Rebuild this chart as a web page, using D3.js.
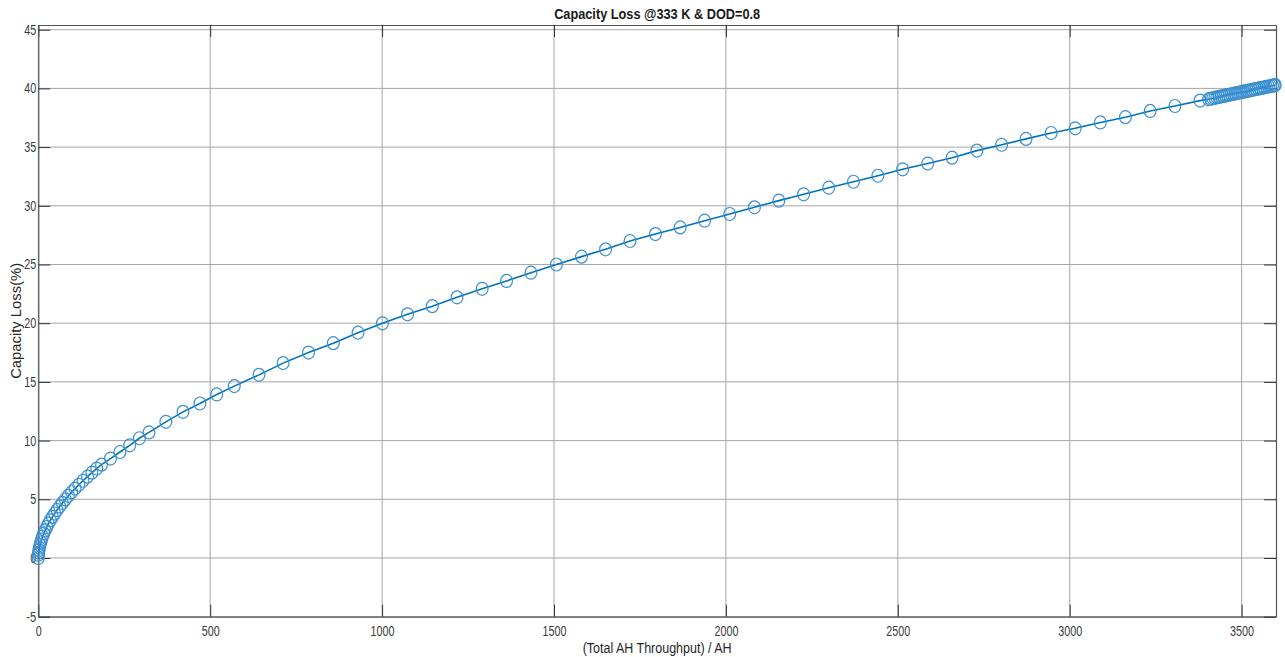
<!DOCTYPE html>
<html>
<head>
<meta charset="utf-8">
<script src="https://cdn.jsdelivr.net/npm/d3@7"></script>
<style>
  html, body { margin: 0; padding: 0; background: #fff; }
  svg { display: block; font-family: "Liberation Sans", Arial, sans-serif; }
</style>
</head>
<body>
<svg id="chart" width="1285" height="657"></svg>
<script>
// Cumulative amp-hour throughput (AH) at each solver output step
const throughput = [
  0, 0.4, 1, 2, 3.3, 5, 7, 9.5, 12.5, 16, 20, 24.5, 29.5, 35, 41, 47.5, 54.5, 62, 70, 78.5,
  87.5, 97, 107, 118, 130, 143, 156, 170, 184, 210, 237.5, 266, 294, 322,
  371, 421, 470, 519, 570, 642, 712, 786, 858, 930, 1001, 1074, 1146, 1218, 1291,
  1362, 1433, 1507, 1580, 1650, 1721, 1795, 1867, 1938, 2011, 2083, 2154, 2226, 2299,
  2371, 2442, 2514, 2587, 2658, 2730, 2802, 2873, 2946, 3016, 3089, 3162, 3234, 3306,
  3379, 3404, 3410, 3416, 3422, 3428, 3434, 3440, 3446, 3452, 3458, 3464, 3470, 3476,
  3482, 3488, 3494, 3500, 3506, 3512, 3518, 3524, 3530, 3536, 3542, 3548, 3554, 3560,
  3566, 3572, 3578, 3584, 3590, 3595, 3598
];

// Capacity loss (%) at each of those steps
const capacityLoss = [
  0, 0.28, 0.46, 0.67, 0.88, 1.11, 1.33, 1.57, 1.83, 2.09, 2.36, 2.64, 2.92, 3.21, 3.5, 3.79, 4.09, 4.39, 4.69, 4.99,
  5.3, 5.6, 5.91, 6.24, 6.58, 6.93, 7.27, 7.62, 7.95, 8.47, 9.03, 9.6, 10.2, 10.7,
  11.6, 12.45, 13.16, 13.93, 14.64, 15.6, 16.6, 17.5, 18.3, 19.19, 19.99, 20.76, 21.45, 22.2, 22.93,
  23.6, 24.3, 25.0, 25.67, 26.29, 27.0, 27.59, 28.16, 28.73, 29.3, 29.87, 30.44, 30.98, 31.54,
  32.05, 32.56, 33.11, 33.6, 34.1, 34.7, 35.2, 35.7, 36.2, 36.6, 37.1, 37.55, 38.08, 38.5,
  38.96, 39.08, 39.12, 39.16, 39.2, 39.23, 39.27, 39.31, 39.35, 39.39, 39.43, 39.46, 39.5, 39.54,
  39.57, 39.61, 39.65, 39.69, 39.72, 39.76, 39.8, 39.83, 39.87, 39.91, 39.94, 39.98, 40.02, 40.05,
  40.09, 40.13, 40.16, 40.2, 40.23, 40.26, 40.28
];

const xTicks = [0, 500, 1000, 1500, 2000, 2500, 3000, 3500];
const yTicks = [-5, 0, 5, 10, 15, 20, 25, 30, 35, 40, 45];
const xLimits = [0, 3600];
const yLimits = [-5, 45.4];

const titleText = "Capacity Loss @333 K & DOD=0.8";
const xLabelText = "(Total AH Throughput) / AH";
const yLabelText = "Capacity Loss(%)";

(function drawChart() {
  const data = throughput.map((v, i) => ({ x: v, y: capacityLoss[i] }));

  const svg = d3.select("#chart");
  const plotLeft = 38.3, plotRight = 1276, plotTop = 25, plotBottom = 616.7;

  const x = d3.scaleLinear().domain(xLimits).range([plotLeft, plotRight]);
  const y = d3.scaleLinear().domain(yLimits).range([plotBottom, plotTop]);

  const lineColor = "#0072BD";
  const gridColor = "#a6a6a6";
  const axisColor = "#555";
  const textColor = "#3a3a3a";
  const tickLen = 12;
  const plainNumber = d => String(d);

  // Grid lines
  svg.append("g").selectAll("line").data(xTicks).join("line")
    .attr("x1", d => x(d)).attr("x2", d => x(d))
    .attr("y1", plotTop).attr("y2", plotBottom)
    .attr("stroke", gridColor).attr("stroke-width", 1);
  svg.append("g").selectAll("line").data(yTicks).join("line")
    .attr("x1", plotLeft).attr("x2", plotRight)
    .attr("y1", d => y(d)).attr("y2", d => y(d))
    .attr("stroke", gridColor).attr("stroke-width", 1);

  // Axes with inward ticks on all four sides
  const styleAxis = g => {
    g.select(".domain").attr("stroke", axisColor).attr("stroke-width", 1.2);
    g.selectAll(".tick line").attr("stroke", "#333").attr("stroke-width", 1);
  };

  const gx = svg.append("g").attr("transform", `translate(0,${plotBottom})`)
    .call(d3.axisBottom(x).tickValues(xTicks).tickFormat(plainNumber)
      .tickSizeInner(-tickLen).tickSizeOuter(0).tickPadding(tickLen + 8))
    .call(styleAxis);
  svg.append("g").attr("transform", `translate(0,${plotTop})`)
    .call(d3.axisTop(x).tickValues(xTicks).tickSizeInner(-tickLen).tickSizeOuter(0).tickFormat(""))
    .call(styleAxis);
  const gy = svg.append("g").attr("transform", `translate(${plotLeft},0)`)
    .call(d3.axisLeft(y).tickValues(yTicks).tickFormat(plainNumber)
      .tickSizeInner(-tickLen).tickSizeOuter(0).tickPadding(2))
    .call(styleAxis);
  svg.append("g").attr("transform", `translate(${plotRight},0)`)
    .call(d3.axisRight(y).tickValues(yTicks).tickSizeInner(-tickLen).tickSizeOuter(0).tickFormat(""))
    .call(styleAxis);

  // Tick labels: tall, narrow glyphs
  [gx, gy].forEach(g => {
    g.selectAll(".tick text")
      .attr("font-family", "'Liberation Sans', Arial, sans-serif")
      .attr("font-size", 14)
      .attr("fill", textColor)
      .each(function () {
        const t = d3.select(this);
        const s = t.text();
        const w = s.replace(/-/g, "").length * 6.0 + (s.includes("-") ? 4 : 0);
        t.attr("textLength", w).attr("lengthAdjust", "spacingAndGlyphs");
      });
  });
  gx.selectAll(".tick text").attr("dy", "0.71em").attr("y", 9);

  // Curve
  svg.append("path")
    .datum(data)
    .attr("fill", "none")
    .attr("stroke", lineColor)
    .attr("stroke-width", 1.6)
    .attr("d", d3.line().x(d => x(d.x)).y(d => y(d.y)));

  // Circle markers
  svg.append("g").selectAll("ellipse").data(data).join("ellipse")
    .attr("cx", d => x(d.x))
    .attr("cy", d => y(d.y))
    .attr("rx", 5.9)
    .attr("ry", 6.5)
    .attr("fill", "none")
    .attr("stroke", "#3a8fd0")
    .attr("stroke-width", 1.2);

  // Title and axis labels
  svg.append("text")
    .attr("x", (plotLeft + plotRight) / 2).attr("y", 19)
    .attr("text-anchor", "middle")
    .attr("font-size", 14).attr("font-weight", "bold")
    .attr("fill", "#1a1a1a")
    .attr("textLength", 206).attr("lengthAdjust", "spacingAndGlyphs")
    .text(titleText);

  svg.append("text")
    .attr("x", (plotLeft + plotRight) / 2).attr("y", 653)
    .attr("text-anchor", "middle")
    .attr("font-size", 14)
    .attr("fill", "#262626")
    .attr("textLength", 149).attr("lengthAdjust", "spacingAndGlyphs")
    .text(xLabelText);

  svg.append("text")
    .attr("transform", `translate(21,${(plotTop + plotBottom) / 2}) rotate(-90)`)
    .attr("text-anchor", "middle")
    .attr("font-size", 14)
    .attr("fill", "#262626")
    .attr("textLength", 116).attr("lengthAdjust", "spacingAndGlyphs")
    .text(yLabelText);
})();
</script>
</body>
</html>
